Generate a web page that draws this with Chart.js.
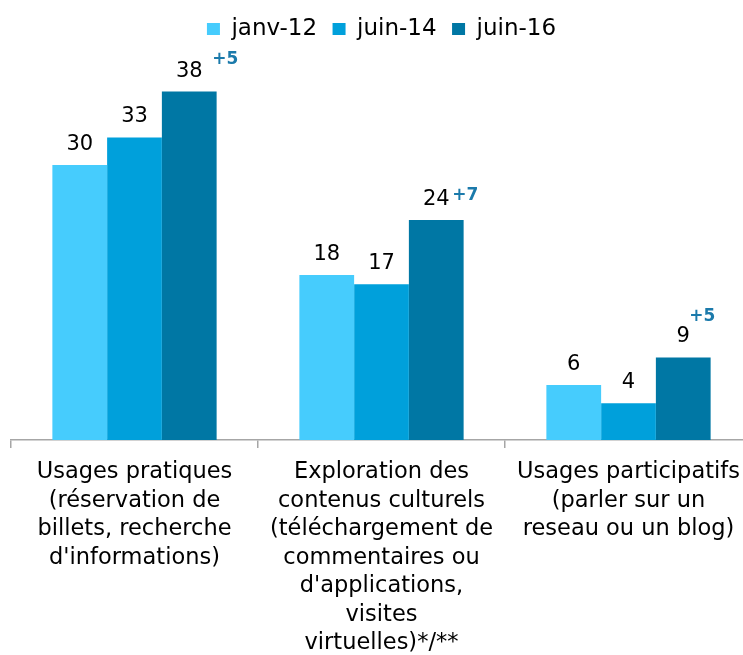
<!DOCTYPE html>
<html>
<head>
<meta charset="utf-8">
<script src="https://cdn.jsdelivr.net/npm/chart.js@4/dist/chart.umd.min.js"></script>
<style>
  html, body { margin: 0; padding: 0; background: #fff; overflow: hidden; }
  #wrap { position: relative; width: 760px; height: 655px; }
</style>
</head>
<body>
<div id="wrap"><canvas id="c"></canvas></div>
<script>
const categories = [
  ["Usages pratiques", "(réservation de", "billets, recherche", "d'informations)"],
  ["Exploration des", "contenus culturels", "(téléchargement de", "commentaires ou", "d'applications,", "visites", "virtuelles)*/**"],
  ["Usages participatifs", "(parler sur un", "reseau ou un blog)"]
];
const seriesNames = ["janv-12", "juin-14", "juin-16"];
const janv12 = [30, 18, 6];
const juin14 = [33, 17, 4];
const juin16 = [38, 24, 9];
const evolution = ["+5", "+7", "+5"];

const colors = ["#46CCFD", "#00A0DB", "#0077A4"];
const FONT = "'DejaVu Sans', Verdana, sans-serif";

const labelPlugin = {
  id: 'valueLabels',
  afterDatasetsDraw(chart, args, opts) {
    const ctx = chart.ctx;
    ctx.save();
    ctx.font = "21px " + FONT;
    ctx.fillStyle = "#000";
    ctx.textAlign = "center";
    ctx.textBaseline = "alphabetic";
    chart.data.datasets.forEach((ds, di) => {
      const meta = chart.getDatasetMeta(di);
      meta.data.forEach((el, i) => {
        ctx.fillText(String(ds.data[i]), el.x, el.y - 15);
      });
    });
    // evolution annotations next to the last series
    const last = chart.data.datasets.length - 1;
    const meta = chart.getDatasetMeta(last);
    ctx.font = "bold 17px " + FONT;
    ctx.fillStyle = "#1B7AAB";
    ctx.textBaseline = "middle";
    meta.data.forEach((el, i) => {
      const off = opts.offsets[i];
      ctx.fillText(evolution[i], el.x + off[0], el.y + off[1]);
    });
    ctx.restore();
  }
};

new Chart(document.getElementById('c'), {
  type: 'bar',
  data: {
    labels: categories,
    datasets: [
      { label: seriesNames[0], data: janv12, backgroundColor: colors[0] },
      { label: seriesNames[1], data: juin14, backgroundColor: colors[1] },
      { label: seriesNames[2], data: juin16, backgroundColor: colors[2] }
    ]
  },
  plugins: [labelPlugin],
  options: {
    responsive: true,
    maintainAspectRatio: false,
    animation: false,
    layout: { padding: { left: 11, right: 8, top: 2, bottom: 0 } },
    datasets: { bar: { barPercentage: 1.0, categoryPercentage: 0.665, borderWidth: 0 } },
    plugins: {
      legend: {
        position: 'top',
        labels: {
          boxWidth: 13,
          boxHeight: 12,
          padding: 15.5,
          color: '#000',
          font: { family: FONT, size: 23 }
        }
      },
      tooltip: { enabled: false },
      valueLabels: { offsets: [[36, -32], [29, -24], [19, -41]] }
    },
    scales: {
      x: {
        afterFit(scale) { scale.height = 215; },
        grid: {
          display: true,
          offset: true,
          drawOnChartArea: false,
          drawTicks: true,
          tickLength: 8,
          color: '#A6A6A6',
          lineWidth: 1.5
        },
        border: { display: true, color: '#A6A6A6', width: 1.5 },
        ticks: {
          color: '#000',
          padding: 10,
          maxRotation: 0,
          autoSkip: false,
          font: { family: FONT, size: 22.5, lineHeight: '28.5px' }
        }
      },
      y: {
        display: false,
        min: 0,
        max: 42.48,
        grid: { display: false }
      }
    }
  }
});
</script>
</body>
</html>
